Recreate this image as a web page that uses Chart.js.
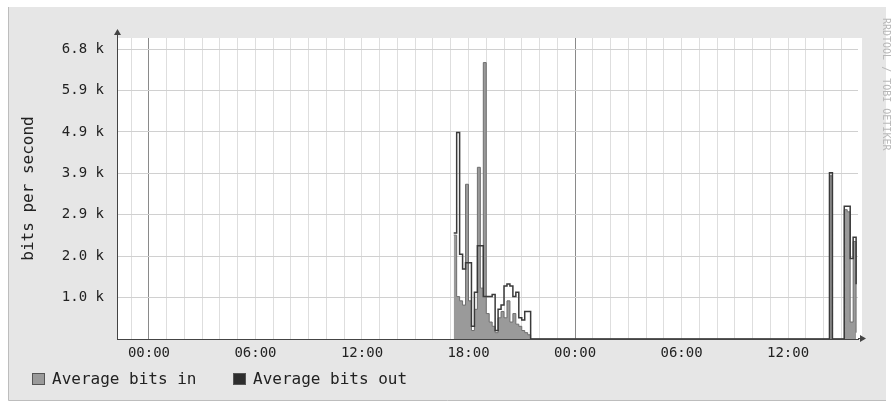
<!DOCTYPE html>
<html>
<head>
<meta charset="utf-8">
<title>bits per second</title>
<script src="https://cdn.jsdelivr.net/npm/chart.js@4.4.1/dist/chart.umd.min.js"></script>
<style>
    html, body { margin: 0; padding: 0; background: #fff; }
    #wrap { width: 894px; height: 403px; }
</style>
</head>
<body>
<div id="wrap"><canvas id="trafficchart" width="894" height="403"></canvas></div>
<script>
"use strict";

/* samples: start time of each 10 minute interval */
var day1Times = ['17:10', '17:20', '17:30', '17:40', '17:50', '18:00', '18:10', '18:20', '18:30',
    '18:40', '18:50', '19:00', '19:10', '19:20', '19:30', '19:40', '19:50', '20:00', '20:10',
    '20:20', '20:30', '20:40', '20:50', '21:00', '21:10', '21:20', '21:30'];
var day1BitsIn = [2450, 1000, 900, 800, 3650, 900, 200, 700, 4050,
    1200, 6520, 600, 400, 300, 150, 500, 650, 500, 900,
    400, 600, 350, 300, 200, 150, 100, 0];
var day1BitsOut = [2500, 4870, 2000, 1650, 1800, 1800, 300, 1100, 2200,
    2200, 1000, 1000, 1000, 1050, 200, 700, 800, 1250, 1300,
    1250, 1000, 1100, 500, 450, 650, 650, 0];

var day2Times = ['14:20', '14:30', '15:10', '15:20', '15:30', '15:40', '15:50'];
var day2BitsIn = [3850, 0, 3050, 3000, 400, 2300, 150];
var day2BitsOut = [3920, 0, 3130, 3130, 1900, 2400, 1290];

var xTickHours = [0, 6, 12, 18, 24, 30, 36];
var xTickLabels = ['00:00', '06:00', '12:00', '18:00', '00:00', '06:00', '12:00'];
var yTickLabels = ['1.0 k', '2.0 k', '2.9 k', '3.9 k', '4.9 k', '5.9 k', '6.8 k'];
var yTickStep = 1000 / 1.024;
var seriesLabels = ['Average bits in', 'Average bits out'];

function toHours(hhmm, day) {
    var parts = hhmm.split(':');
    return day * 24 + Number(parts[0]) + Number(parts[1]) / 60;
}

function toPoints(times, values, day) {
    return times.map(function (t, i) {
        return { x: toHours(t, day), y: values[i] };
    });
}

var monoFont = "'DejaVu Sans Mono', monospace";

document.addEventListener("DOMContentLoaded", function () {
    /* grey frame + white plot area */
    var backgroundPlugin = {
        id: 'rrdBackground',
        beforeDraw: function (chart) {
            var ctx = chart.ctx, a = chart.chartArea;
            ctx.save();
            ctx.fillStyle = '#ffffff';
            ctx.fillRect(0, 0, chart.width, chart.height);
            ctx.fillStyle = '#e6e6e6';
            ctx.fillRect(8, 7, 878, 393);
            ctx.strokeStyle = '#bdbdbd';
            ctx.lineWidth = 1;
            ctx.beginPath();
            ctx.moveTo(8.5, 7);
            ctx.lineTo(8.5, 400.5);
            ctx.lineTo(886, 400.5);
            ctx.stroke();
            ctx.fillStyle = '#ffffff';
            ctx.fillRect(a.left, a.top, a.right - a.left + 4, a.bottom - a.top);
            ctx.restore();
        }
    };

    /* axis arrows, legend and watermark */
    var decorPlugin = {
        id: 'rrdDecor',
        afterDraw: function (chart) {
            var ctx = chart.ctx, a = chart.chartArea;
            ctx.save();
            ctx.strokeStyle = '#444';
            ctx.fillStyle = '#444';
            ctx.lineWidth = 1;
            ctx.beginPath();
            ctx.moveTo(a.left + 0.5, a.top);
            ctx.lineTo(a.left + 0.5, a.top - 4);
            ctx.moveTo(a.right, a.bottom - 0.5);
            ctx.lineTo(a.right + 4, a.bottom - 0.5);
            ctx.stroke();
            ctx.beginPath();
            ctx.moveTo(a.left - 3, a.top - 3);
            ctx.lineTo(a.left + 4, a.top - 3);
            ctx.lineTo(a.left + 0.5, a.top - 9);
            ctx.closePath();
            ctx.fill();
            ctx.beginPath();
            ctx.moveTo(a.right + 2, a.bottom - 4);
            ctx.lineTo(a.right + 2, a.bottom + 3);
            ctx.lineTo(a.right + 8, a.bottom - 0.5);
            ctx.closePath();
            ctx.fill();

            /* legend */
            var boxX = [32, 233];
            var boxFill = ['#9a9a9a', '#2e2e2e'];
            ctx.font = '16px ' + monoFont;
            ctx.textBaseline = 'middle';
            seriesLabels.forEach(function (label, i) {
                ctx.fillStyle = boxFill[i];
                ctx.fillRect(boxX[i], 373, 13, 12);
                ctx.strokeStyle = '#555';
                ctx.strokeRect(boxX[i] + 0.5, 373.5, 12, 11);
                ctx.fillStyle = '#222';
                ctx.fillText(label, boxX[i] + 20, 380);
            });

            /* watermark */
            ctx.translate(886, 18);
            ctx.rotate(Math.PI / 2);
            ctx.font = '10px ' + monoFont;
            ctx.fillStyle = '#b8b8b8';
            ctx.textBaseline = 'middle';
            ctx.fillText('RRDTOOL / TOBI OETIKER', 0, 0);
            ctx.restore();
        }
    };

    var trafficchart = document.getElementById('trafficchart').getContext('2d');

    var trafficConfig = {
        type: 'line',
        data: {
            datasets: [{
                label: seriesLabels[0],
                data: toPoints(day1Times, day1BitsIn, 0).concat(toPoints(day2Times, day2BitsIn, 1)),
                stepped: 'before',
                fill: 'origin',
                backgroundColor: '#9a9a9a',
                borderColor: '#6e6e6e',
                borderWidth: 1,
                pointRadius: 0,
                order: 1,
            },
            {
                label: seriesLabels[1],
                data: toPoints(day1Times, day1BitsOut, 0).concat(toPoints(day2Times, day2BitsOut, 1)),
                stepped: 'before',
                fill: false,
                borderColor: '#3a3a3a',
                borderWidth: 1.5,
                pointRadius: 0,
                order: 0,
            }]
        },
        options: {
            responsive: false,
            animation: false,
            devicePixelRatio: 1,
            layout: {
                padding: { top: 38, right: 36, bottom: 0, left: 0 }
            },
            plugins: {
                legend: { display: false },
                tooltip: { enabled: false },
            },
            scales: {
                x: {
                    type: 'linear',
                    min: -1.8,
                    max: 39.94,
                    afterBuildTicks: function (scale) {
                        var ticks = [];
                        for (var h = -1; h <= 39; h++) {
                            ticks.push({ value: h });
                        }
                        scale.ticks = ticks;
                    },
                    afterFit: function (scale) {
                        scale.height = 64;
                    },
                    ticks: {
                        autoSkip: false,
                        maxRotation: 0,
                        padding: 6,
                        color: '#222',
                        font: { family: monoFont, size: 14 },
                        callback: function (value) {
                            var i = xTickHours.indexOf(value);
                            return i >= 0 ? xTickLabels[i] : '';
                        }
                    },
                    grid: {
                        drawTicks: false,
                        color: function (ctx) {
                            return ctx.tick && ctx.tick.value % 24 === 0 ? '#8a8a8a' : '#dedede';
                        }
                    },
                    border: { color: '#444', width: 1 }
                },
                y: {
                    min: 0,
                    max: 7100,
                    afterBuildTicks: function (scale) {
                        var ticks = [];
                        for (var i = 0; i <= yTickLabels.length; i++) {
                            ticks.push({ value: i * yTickStep });
                        }
                        scale.ticks = ticks;
                    },
                    afterFit: function (scale) {
                        scale.width = 117;
                    },
                    ticks: {
                        padding: 13,
                        color: '#222',
                        font: { family: monoFont, size: 14 },
                        callback: function (value, index) {
                            return index === 0 ? '' : yTickLabels[index - 1];
                        }
                    },
                    grid: {
                        drawTicks: false,
                        color: '#d0d0d0'
                    },
                    border: { color: '#444', width: 1 },
                    title: {
                        display: true,
                        text: 'bits per second',
                        color: '#222',
                        font: { family: monoFont, size: 16 },
                        padding: { top: 19, bottom: 0 }
                    }
                }
            }
        },
        plugins: [backgroundPlugin, decorPlugin]
    };

    var trafficChart = new Chart(trafficchart, trafficConfig);
});
</script>
</body>
</html>
